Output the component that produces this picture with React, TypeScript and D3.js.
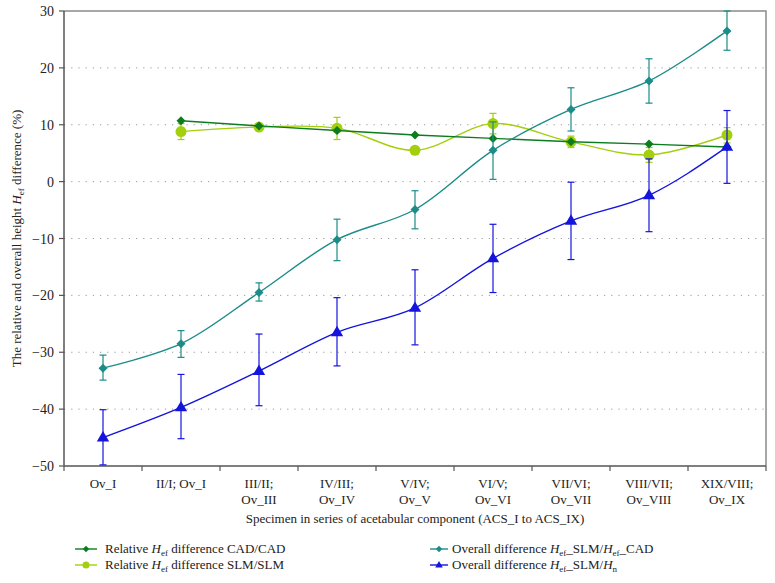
import React from 'react';
import * as d3 from 'd3';

// categories (two-line tick labels)
const categories: string[][] = [
	['Ov_I'],
	['II/I; Ov_I'],
	['III/II;', 'Ov_III'],
	['IV/III;', 'Ov_IV'],
	['V/IV;', 'Ov_V'],
	['VI/V;', 'Ov_VI'],
	['VII/VI;', 'Ov_VII'],
	['VIII/VII;', 'Ov_VIII'],
	['XIX/VIII;', 'Ov_IX'],
];

const yTicks = [30, 20, 10, 0, -10, -20, -30, -40, -50];

// Relative Hef difference CAD/CAD (no value for first category)
const cadValues: (number | null)[] = [null, 10.7, 9.8, 9.0, 8.2, 7.6, 7.0, 6.6, 6.1];

// Relative Hef difference SLM/SLM
const slmValues: (number | null)[] = [null, 8.8, 9.6, 9.4, 5.5, 10.2, 7.0, 4.7, 8.2];
const slmLow: (number | null)[] = [null, 7.4, 9.1, 7.4, 4.9, 8.4, 6.0, 3.4, 6.8];
const slmHigh: (number | null)[] = [null, 10.2, 10.1, 11.3, 6.1, 12.0, 8.0, 6.0, 9.5];

// Overall difference Hef_SLM / Hef_CAD
const overallCad = [-32.8, -28.5, -19.5, -10.2, -4.9, 5.5, 12.7, 17.7, 26.5];
const overallCadLow = [-34.9, -30.9, -21.0, -13.9, -8.3, 0.4, 8.9, 13.8, 23.1];
const overallCadHigh = [-30.5, -26.2, -17.8, -6.6, -1.6, 10.5, 16.5, 21.6, 30.0];

// Overall difference Hef_SLM / Hn
const overallHn = [-45.0, -39.7, -33.3, -26.5, -22.2, -13.5, -6.9, -2.4, 6.1];
const overallHnLow = [-49.8, -45.2, -39.4, -32.4, -28.7, -19.5, -13.7, -8.8, -0.3];
const overallHnHigh = [-40.1, -33.9, -26.8, -20.4, -15.5, -7.5, -0.1, 4.0, 12.5];

const W = 775;
const H = 583;
const margin = { left: 64, right: 9, top: 11, bottom: 117 };
const FONT = '"Liberation Serif", "Times New Roman", serif';

const C_CAD = '#0b7d1f';
const C_SLM = '#a4cf0c';
const C_TEAL = '#1b8c88';
const C_BLUE = '#1414dc';

const App: React.FC = () => {
	const x0 = margin.left;
	const x1 = W - margin.right;
	const y0 = margin.top;
	const y1 = H - margin.bottom;

	const xScale = d3
		.scaleBand<number>()
		.domain(categories.map((_, i) => i))
		.range([x0, x1]);
	const cx = (i: number) => (xScale(i) ?? 0) + xScale.bandwidth() / 2;
	const yScale = d3.scaleLinear().domain([-50, 30]).range([y1, y0]);

	const pts = (vals: (number | null)[]) =>
		vals
			.map((v, i) => (v === null ? null : ([cx(i), yScale(v)] as [number, number])))
			.filter((p): p is [number, number] => p !== null);

	const straight = d3.line();
	const smooth = d3.line().curve(d3.curveCatmullRom.alpha(0.5));
	const monotone = d3.line().curve(d3.curveMonotoneX);

	const errorBars = (
		vals: (number | null)[],
		lo: (number | null)[],
		hi: (number | null)[],
		color: string,
		key: string,
	) =>
		vals.map((v, i) => {
			if (v === null || lo[i] === null || hi[i] === null) return null;
			const x = cx(i);
			const ya = yScale(lo[i] as number);
			const yb = yScale(hi[i] as number);
			return (
				<g key={`${key}-${i}`} stroke={color} strokeWidth={1.2}>
					<line x1={x} x2={x} y1={ya} y2={yb} />
					<line x1={x - 3.5} x2={x + 3.5} y1={ya} y2={ya} />
					<line x1={x - 3.5} x2={x + 3.5} y1={yb} y2={yb} />
				</g>
			);
		});

	const diamond = (x: number, y: number, r: number) =>
		`M${x},${y - r}L${x + r},${y}L${x},${y + r}L${x - r},${y}Z`;
	const triangle = (x: number, y: number, r: number) =>
		`M${x},${y - r}L${x + r * 0.95},${y + r * 0.6}L${x - r * 0.95},${y + r * 0.6}Z`;

	const sub = (s: string) => (
		<>
			<tspan fontStyle="italic">H</tspan>
			<tspan fontSize={9} dy={3}>
				{s}
			</tspan>
		</>
	);

	const legendItems = [
		{ x: 75, y: 549, len: 22, gap: 8, color: C_CAD, marker: 'diamond', label: (
			<>Relative {sub('ef')}<tspan dy={-3}> difference CAD/CAD</tspan></>
		) },
		{ x: 75, y: 565, len: 22, gap: 8, color: C_SLM, marker: 'circle', label: (
			<>Relative {sub('ef')}<tspan dy={-3}> difference SLM/SLM</tspan></>
		) },
		{ x: 430, y: 549, len: 18, gap: 4, color: C_TEAL, marker: 'diamond', label: (
			<>Overall difference {sub('ef')}<tspan dy={-3}>_SLM/</tspan>{sub('ef')}<tspan dy={-3}>_CAD</tspan></>
		) },
		{ x: 430, y: 565, len: 18, gap: 4, color: C_BLUE, marker: 'triangle', label: (
			<>Overall difference {sub('ef')}<tspan dy={-3}>_SLM/</tspan>{sub('n')}</>
		) },
	];

	return (
		<svg
			width={W}
			height={H}
			style={{ position: 'absolute', left: 0, top: 0, background: '#fff' }}
			fontFamily={FONT}>
			{/* grid */}
			{yTicks
				.filter((t) => t !== 30 && t !== -50)
				.map((t) => (
					<line
						key={`g${t}`}
						x1={x0}
						x2={x1}
						y1={yScale(t)}
						y2={yScale(t)}
						stroke="#9a9a9a"
						strokeWidth={1}
						strokeDasharray="1.2 6"
					/>
				))}
			{/* frame */}
			<path d={`M${x0},${y0}H${x1}V${y1}`} fill="none" stroke="#8a8a8a" strokeWidth={1.5} />
			<line x1={x0} x2={x0} y1={y0} y2={y1} stroke="#555" strokeWidth={1.5} />
			<line x1={x0} x2={x1} y1={y1} y2={y1} stroke="#555" strokeWidth={1.5} />

			{/* y ticks */}
			{yTicks.map((t) => (
				<g key={`y${t}`}>
					<line x1={x0 - 5} x2={x0} y1={yScale(t)} y2={yScale(t)} stroke="#555" strokeWidth={1.2} />
					<text x={x0 - 10} y={yScale(t) + 5} textAnchor="end" fontSize={14} fill="#222">
						{t < 0 ? `\u2212${Math.abs(t)}` : t}
					</text>
				</g>
			))}

			{/* x ticks */}
			{categories.map((c, i) => (
				<g key={`x${i}`}>
					<line
						x1={xScale(i) ?? 0}
						x2={xScale(i) ?? 0}
						y1={y1}
						y2={y1 + 5}
						stroke="#555"
						strokeWidth={1.2}
					/>
					{c.map((line, j) => (
						<text key={j} x={cx(i)} y={y1 + 22 + j * 16} textAnchor="middle" fontSize={13} fill="#222">
							{line}
						</text>
					))}
				</g>
			))}
			<line x1={x1} x2={x1} y1={y1} y2={y1 + 5} stroke="#555" strokeWidth={1.2} />

			{/* axis titles */}
			<text x={(x0 + x1) / 2} y={y1 + 57} textAnchor="middle" fontSize={13} fill="#222">
				Specimen in series of acetabular component (ACS_I to ACS_IX)
			</text>
			<text
				transform={`translate(21,${(y0 + y1) / 2}) rotate(-90)`}
				textAnchor="middle"
				fontSize={13}
				fill="#222">
				The relative and overall height {sub('ef')}
				<tspan dy={-3}> difference (%)</tspan>
			</text>

			{/* SLM/SLM */}
			{errorBars(slmValues, slmLow, slmHigh, C_SLM, 'slm')}
			<path d={smooth(pts(slmValues)) ?? ''} fill="none" stroke={C_SLM} strokeWidth={1.4} />
			{pts(slmValues).map(([x, y], i) => (
				<circle key={`sc${i}`} cx={x} cy={y} r={5.5} fill={C_SLM} />
			))}

			{/* CAD/CAD */}
			<path d={straight(pts(cadValues)) ?? ''} fill="none" stroke={C_CAD} strokeWidth={1.4} />
			{pts(cadValues).map(([x, y], i) => (
				<path key={`cd${i}`} d={diamond(x, y, 4.5)} fill={C_CAD} />
			))}

			{/* Overall Hef_SLM/Hef_CAD */}
			{errorBars(overallCad, overallCadLow, overallCadHigh, C_TEAL, 'oc')}
			<path d={smooth(pts(overallCad)) ?? ''} fill="none" stroke={C_TEAL} strokeWidth={1.4} />
			{pts(overallCad).map(([x, y], i) => (
				<path key={`od${i}`} d={diamond(x, y, 4.5)} fill={C_TEAL} />
			))}

			{/* Overall Hef_SLM/Hn */}
			{errorBars(overallHn, overallHnLow, overallHnHigh, C_BLUE, 'oh')}
			<path d={monotone(pts(overallHn)) ?? ''} fill="none" stroke={C_BLUE} strokeWidth={1.4} />
			{pts(overallHn).map(([x, y], i) => (
				<path key={`ot${i}`} d={triangle(x, y, 6.5)} fill={C_BLUE} />
			))}

			{/* legend */}
			{legendItems.map((it, i) => (
				<g key={`l${i}`}>
					<line x1={it.x} x2={it.x + it.len} y1={it.y} y2={it.y} stroke={it.color} strokeWidth={1.4} />
					{it.marker === 'circle' ? (
						<circle cx={it.x + it.len / 2} cy={it.y} r={3.5} fill={it.color} />
					) : it.marker === 'triangle' ? (
						<path d={triangle(it.x + it.len / 2, it.y, 4)} fill={it.color} />
					) : (
						<path d={diamond(it.x + it.len / 2, it.y, 3.2)} fill={it.color} />
					)}
					<text x={it.x + it.len + it.gap} y={it.y + 4} fontSize={13} fill="#222">
						{it.label}
					</text>
				</g>
			))}
		</svg>
	);
};

export default App;
